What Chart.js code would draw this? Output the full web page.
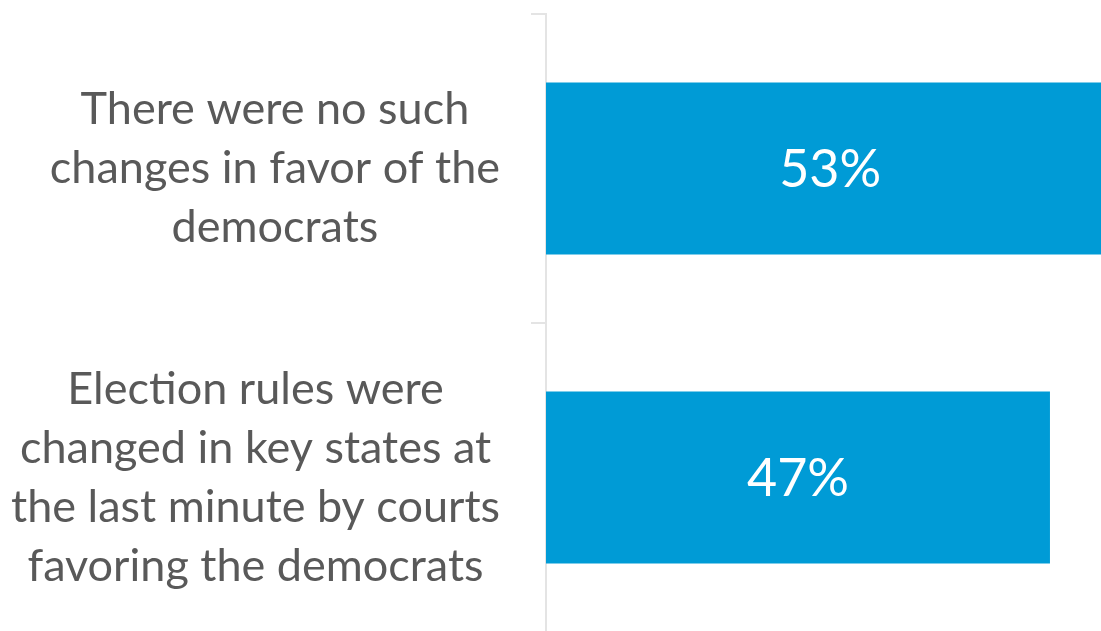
<!DOCTYPE html>
<html>
<head>
<meta charset="utf-8">
<script src="https://cdn.jsdelivr.net/npm/chart.js@4/dist/chart.umd.min.js"></script>
<style>
  html, body { margin: 0; padding: 0; background: #fff; overflow: hidden; }
  #wrap { width: 1101px; height: 632px; position: relative; }
</style>
</head>
<body>
<div id="wrap"><canvas id="myBarChart"></canvas></div>
<script>
var categories = [
    ['There were no such', 'changes in favor of the', 'democrats'],
    ['Election rules were', 'changed in key states at', 'the last minute by courts', 'favoring the democrats']
];
var shares = [53, 47];
var xMax = 51.76;

var labelFont = '45px Lato, "Open Sans", sans-serif';
var valueFont = '52px Lato, "Open Sans", sans-serif';

// draws the category texts, each block centered on its own widest line
var sideLabels = {
    id: 'sideLabels',
    afterDraw: function (chart) {
        var ctx = chart.ctx;
        var scale = chart.scales.y;
        var rightEdge = chart.chartArea.left - 46;
        var lineH = 59;
        ctx.save();
        ctx.font = labelFont;
        ctx.fillStyle = '#595959';
        ctx.textAlign = 'center';
        ctx.textBaseline = 'middle';
        categories.forEach(function (lines, i) {
            var widest = 0;
            lines.forEach(function (l) { widest = Math.max(widest, ctx.measureText(l).width); });
            var cx = rightEdge - widest / 2;
            var cy = scale.getPixelForTick(i);
            lines.forEach(function (l, j) {
                ctx.fillText(l, cx, cy + (j - (lines.length - 1) / 2) * lineH);
            });
        });
        ctx.restore();
    }
};

var valueLabels = {
    id: 'valueLabels',
    afterDatasetsDraw: function (chart) {
        var ctx = chart.ctx;
        ctx.save();
        ctx.font = valueFont;
        ctx.fillStyle = '#ffffff';
        ctx.textAlign = 'center';
        ctx.textBaseline = 'middle';
        chart.getDatasetMeta(0).data.forEach(function (bar, i) {
            ctx.fillText(shares[i] + '%', (bar.x + bar.base) / 2, bar.y + 2);
        });
        ctx.restore();
    }
};

var ctx = document.getElementById('myBarChart');
var myChart = new Chart(ctx, {
    type: 'bar',
    data: {
        labels: categories,
        datasets: [{
            data: shares,
            backgroundColor: '#009bd6',
            borderWidth: 0,
            categoryPercentage: 1,
            barPercentage: 0.557
        }]
    },
    plugins: [sideLabels, valueLabels],
    options: {
        indexAxis: 'y',
        responsive: true,
        maintainAspectRatio: false,
        animation: false,
        layout: { padding: { left: 531, top: 14, right: 0, bottom: 0 } },
        plugins: {
            legend: { display: false },
            tooltip: { enabled: false }
        },
        scales: {
            x: {
                display: false,
                min: 0,
                max: xMax
            },
            y: {
                ticks: { display: false },
                grid: {
                    drawOnChartArea: false,
                    drawTicks: true,
                    tickLength: 15,
                    color: '#e4e4e4',
                    lineWidth: 2
                },
                border: { color: '#e4e4e4', width: 2 }
            }
        }
    }
});
</script>
</body>
</html>
